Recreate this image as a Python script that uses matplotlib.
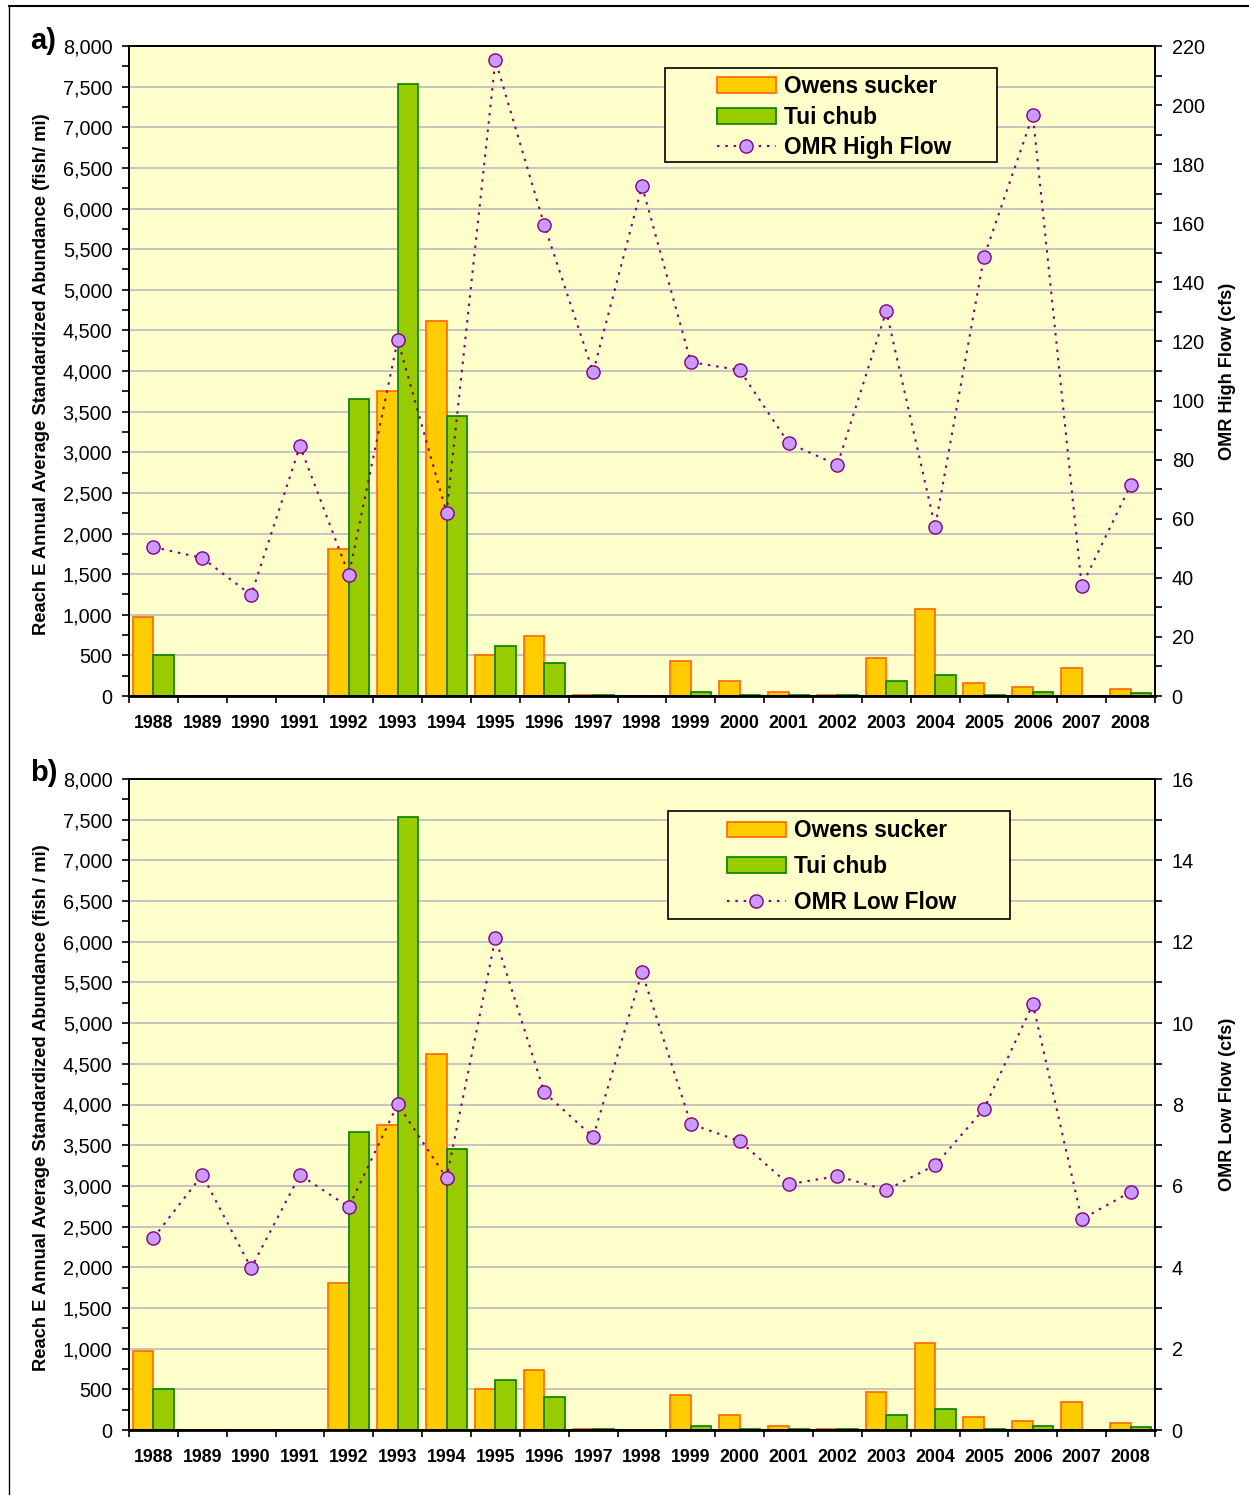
import matplotlib
matplotlib.use("Agg")
import matplotlib.pyplot as plt
import numpy as np
from matplotlib.ticker import MultipleLocator, FuncFormatter, FixedLocator
from matplotlib.patches import Rectangle
from matplotlib.lines import Line2D

plt.rcParams['font.family'] = ['Liberation Sans', 'DejaVu Sans']

years = ['1988', '1989', '1990', '1991', '1992', '1993', '1994', '1995', '1996', '1997', '1998',
         '1999', '2000', '2001', '2002', '2003', '2004', '2005', '2006', '2007', '2008']
owens_sucker = [975, 0, 0, 0, 1810, 3750, 4620, 500, 740, 15, 0,
                430, 180, 55, 10, 470, 1075, 155, 105, 345, 90]
tui_chub = [500, 0, 0, 0, 3660, 7530, 3450, 610, 410, 15, 0,
            55, 12, 15, 10, 180, 262, 12, 55, 0, 35]
omr_high_flow = [50.4, 46.7, 34.2, 84.6, 41.0, 120.5, 62.0, 215.2, 159.4, 109.6, 172.6,
                 113.0, 110.3, 85.6, 78.2, 130.3, 57.2, 148.6, 196.6, 37.2, 71.4]
omr_low_flow = [4.72, 6.27, 3.98, 6.27, 5.48, 8.01, 6.19, 12.09, 8.30, 7.20, 11.25,
                7.52, 7.10, 6.04, 6.24, 5.90, 6.51, 7.89, 10.47, 5.18, 5.85]

W, H = 1249, 1495
fig = plt.figure(figsize=(W / 100, H / 100), dpi=100)

OS_FACE, OS_EDGE = '#FFCC00', '#FF6600'
TC_FACE, TC_EDGE = '#99CC00', '#008000'
BG = '#FFFFCC'
LINE_C, MK_FACE = '#800080', '#CC99FF'


def px_axes(left, top, right, bottom):
    return [left / W, 1 - bottom / H, (right - left) / W, (bottom - top) / H]


def panel(rect, flow, flow_label, ylabel, ymax2, major2, minor2, legend_box, legend_anchor, lspacing, letter, letter_y):
    ax = fig.add_axes(rect)
    ax.set_facecolor(BG)
    x = np.arange(len(years))
    bw = 0.42
    ax.bar(x - bw / 2, owens_sucker, bw, color=OS_FACE, edgecolor=OS_EDGE, linewidth=1.2,
           label='Owens sucker', zorder=2)
    ax.bar(x + bw / 2, tui_chub, bw, color=TC_FACE, edgecolor=TC_EDGE, linewidth=1.2,
           label='Tui chub', zorder=2)
    ax.set_xlim(-0.5, len(years) - 0.5)
    ax.set_ylim(0, 8000)
    ax.yaxis.set_major_locator(MultipleLocator(500))
    ax.yaxis.set_minor_locator(MultipleLocator(250))
    ax.yaxis.set_major_formatter(FuncFormatter(lambda v, p: f'{v:,.0f}'))
    ax.set_axisbelow(True)
    ax.grid(axis='y', which='major', color='#C0C0C0', linewidth=1.3)
    ax.tick_params(axis='y', which='both', direction='out', length=5, width=1.2, labelsize=14.3, pad=7)
    ax.xaxis.set_major_locator(FixedLocator(x))
    ax.set_xticklabels(years, fontsize=12.8, fontweight='bold')
    ax.xaxis.set_minor_locator(FixedLocator(np.arange(-0.5, len(years), 1.0)))
    ax.tick_params(axis='x', which='major', length=0, pad=14)
    ax.tick_params(axis='x', which='minor', direction='out', length=5, width=1.2)
    for s in ax.spines.values():
        s.set_linewidth(1.3)
        s.set_color('black')
    ax.spines['bottom'].set_linewidth(2)
    ax.set_ylabel(ylabel, fontsize=13.2, fontweight='bold')
    ax.yaxis.set_label_coords(-0.077, 0.495)

    ax2 = ax.twinx()
    ax2.plot(x, flow, linestyle=(0, (1.2, 2.8)), color=LINE_C, linewidth=1.5,
             marker='o', markersize=9.5, markerfacecolor=MK_FACE, markeredgecolor=LINE_C,
             markeredgewidth=1.0, label=flow_label, zorder=5)
    ax2.set_ylim(0, ymax2)
    ax2.yaxis.set_major_locator(MultipleLocator(major2))
    ax2.yaxis.set_minor_locator(MultipleLocator(minor2))
    ax2.tick_params(axis='y', which='both', direction='out', length=5, width=1.2, labelsize=14.3, pad=7)
    ax2.set_ylabel(flow_label + ' (cfs)', fontsize=13.1, fontweight='bold')
    ax2.yaxis.set_label_coords(1.0623, 0.5)
    for s in ax2.spines.values():
        s.set_linewidth(1.3)

    # legend box
    ax2.add_patch(Rectangle(legend_box[:2], legend_box[2], legend_box[3], transform=ax2.transAxes,
                            facecolor=BG, edgecolor='black', linewidth=1.2, zorder=6))
    h1, l1 = ax.get_legend_handles_labels()
    h2, l2 = ax2.get_legend_handles_labels()
    leg = ax2.legend(h1 + h2, l1 + l2, loc='upper left', bbox_to_anchor=legend_anchor,
                     frameon=False, borderpad=0, borderaxespad=0, handlelength=2.6,
                     handletextpad=0.36, labelspacing=lspacing,
                     prop={'size': 16.3, 'weight': 'bold'})
    leg.set_zorder(7)
    fig.text(30 / W, 1 - letter_y / H, letter, fontsize=21, fontweight='bold', va='center', ha='left')
    return ax, ax2


panel(px_axes(129, 46, 1155, 696), omr_high_flow, 'OMR High Flow',
      'Reach E Annual Average Standardized Abundance (fish/ mi)', 220, 20, 10,
      (0.5224, 0.8215, 0.3236, 0.1446), (0.5731, 0.955), 0.33, 'a)', 41)
panel(px_axes(129, 779, 1155, 1430), omr_low_flow, 'OMR Low Flow',
      'Reach E Annual Average Standardized Abundance (fish / mi)', 16, 2, 1,
      (0.5253, 0.7849, 0.3333, 0.1659), (0.5828, 0.938), 0.57, 'b)', 773)

# outer frame lines
fig.add_artist(Line2D([9 / W, 1], [1 - 6 / H, 1 - 6 / H], transform=fig.transFigure, color='black', linewidth=1.5))
fig.add_artist(Line2D([9 / W, 9 / W], [1 - 6 / H, 0], transform=fig.transFigure, color='black', linewidth=1.0))

fig.savefig('out.png', dpi=100)
